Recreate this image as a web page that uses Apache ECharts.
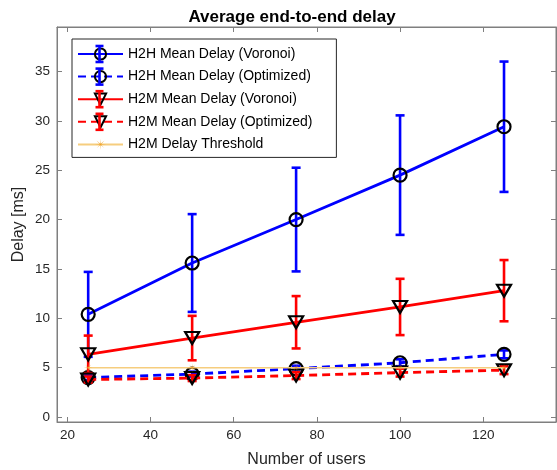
<!DOCTYPE html>
<html>
<head>
<meta charset="utf-8">
<script src="https://cdn.jsdelivr.net/npm/echarts@6/dist/echarts.min.js"></script>
<style>
  html, body { margin: 0; padding: 0; background: #fff; }
  #chart { width: 557px; height: 470px; }
</style>
</head>
<body>
<div id="chart"></div>
<script>
// Datos
var users = [25, 50, 75, 100, 125];
var xTicks = [20, 40, 60, 80, 100, 120];
var yTicks = [0, 5, 10, 15, 20, 25, 30, 35];

var h2hVorMean = [10.4, 15.6, 20.0, 24.5, 29.4];
var h2hVorErr = [4.3, 4.95, 5.25, 6.05, 6.6];
var h2hOptMean = [4.0, 4.35, 4.9, 5.5, 6.35];
var h2hOptErr = [0.25, 0.25, 0.3, 0.35, 0.4];
var h2mVorMean = [6.35, 8.0, 9.6, 11.15, 12.8];
var h2mVorErr = [1.9, 2.25, 2.65, 2.85, 3.1];
var h2mOptMean = [3.8, 3.95, 4.2, 4.5, 4.75];
var h2mOptErr = [0.3, 0.3, 0.35, 0.4, 0.4];
var threshold = [5, 5, 5, 5, 5];

var font = "Liberation Sans, Helvetica, Arial, sans-serif";
var axisColor = "#262626";
var boxColor = "#7f7f7f";

// asterisco de 8 brazos como símbolo
function asteriskPath() {
    var pts = [];
    for (var i = 0; i < 16; i++) {
        var a = Math.PI * i / 8;
        var r = i % 2 === 0 ? 10 : 1.2;
        pts.push((r * Math.cos(a)).toFixed(2) + " " + (r * Math.sin(a)).toFixed(2));
    }
    return "path://M" + pts.join(" L") + " Z";
}

function pairs(ys) {
    return users.map(function (x, i) { return [x, ys[i]]; });
}
function errData(mean, err) {
    return users.map(function (x, i) { return [x, mean[i], err[i]]; });
}

function errorBarSeries(name, mean, err, color, z) {
    return {
        type: "custom",
        name: name + " err",
        z: z,
        data: errData(mean, err),
        encode: { x: 0, y: [1] },
        renderItem: function (params, api) {
            var x = api.value(0), y = api.value(1), e = api.value(2);
            var top = api.coord([x, y + e]);
            var bot = api.coord([x, y - e]);
            var hw = 4.5;
            var st = { stroke: color, lineWidth: 2.6 };
            return {
                type: "group",
                children: [
                    { type: "line", shape: { x1: top[0], y1: top[1], x2: bot[0], y2: bot[1] }, style: st },
                    { type: "line", shape: { x1: top[0] - hw, y1: top[1], x2: top[0] + hw, y2: top[1] }, style: st },
                    { type: "line", shape: { x1: bot[0] - hw, y1: bot[1], x2: bot[0] + hw, y2: bot[1] }, style: st }
                ]
            };
        }
    };
}

function lineSeries(name, mean, color, dashed, marker, z) {
    var tri = marker === "tri";
    return {
        type: "line",
        name: name,
        z: z,
        data: pairs(mean),
        symbol: tri ? "triangle" : "circle",
        symbolSize: tri ? [14, 12] : 13,
        symbolRotate: tri ? 180 : 0,
        showAllSymbol: true,
        lineStyle: { color: color, width: 2.8, type: dashed ? [8, 5] : "solid" },
        itemStyle: { color: "rgba(0,0,0,0)", borderColor: "#000", borderWidth: 2.2 },
        emphasis: { disabled: true }
    };
}

var chart = echarts.init(document.getElementById("chart"), null, { renderer: "canvas" });

// barras de error dibujadas encima de la leyenda
var legendTop = 39, rowPitch = 22.6;
var legendColors = ["#0000ff", "#0000ff", "#ff0000", "#ff0000"];
var legendGraphics = [];
legendColors.forEach(function (c, k) {
    var cx = 99.5, cy = legendTop + 15 + k * rowPitch;
    var st = { stroke: c, lineWidth: 2.6 };
    legendGraphics.push({ type: "line", z: 100, shape: { x1: cx, y1: cy - 8, x2: cx, y2: cy + 8 }, style: st });
    legendGraphics.push({ type: "line", z: 100, shape: { x1: cx - 4, y1: cy - 8, x2: cx + 4, y2: cy - 8 }, style: st });
    legendGraphics.push({ type: "line", z: 100, shape: { x1: cx - 4, y1: cy + 8, x2: cx + 4, y2: cy + 8 }, style: st });
});

var option = {
    backgroundColor: "#fff",
    animation: false,
    textStyle: { fontFamily: font },
    title: {
        text: "Average end-to-end delay",
        left: 287, top: 4, textAlign: "center",
        textStyle: { fontFamily: font, fontSize: 17, fontWeight: "bold", color: "#000" }
    },
    grid: {
        left: 57, top: 27, right: 1, bottom: 48,
        outerBoundsMode: "none",
        show: true, borderColor: boxColor, borderWidth: 1
    },
    legend: {
        orient: "vertical",
        left: 72, top: legendTop,
        padding: [8, 24, 6, 5],
        itemWidth: 45, itemHeight: 14, itemGap: 8.6,
        backgroundColor: "#fff",
        borderColor: "#262626", borderWidth: 1,
        textStyle: { fontFamily: font, fontSize: 14, color: "#000", lineHeight: 14 },
        selectedMode: false,
        data: ["H2H Mean Delay (Voronoi)", "H2H Mean Delay (Optimized)", "H2M Mean Delay (Voronoi)",
               "H2M Mean Delay (Optimized)", "H2M Delay Threshold"]
    },
    xAxis: [{
        type: "value", min: 17.5, max: 137.5,
        name: "Number of users", nameLocation: "middle", nameGap: 30, nameMoveOverlap: false,
        nameTextStyle: { fontFamily: font, fontSize: 16, color: axisColor },
        axisLine: { onZero: false, lineStyle: { color: boxColor } },
        axisTick: { inside: true, length: 5, customValues: xTicks, lineStyle: { color: boxColor } },
        axisLabel: { customValues: xTicks, fontSize: 13.5, color: axisColor, margin: 6 },
        splitLine: { show: false }
    }, {
        type: "value", min: 17.5, max: 137.5, position: "top",
        axisLine: { onZero: false, lineStyle: { color: boxColor } },
        axisTick: { inside: true, length: 5, customValues: xTicks, lineStyle: { color: boxColor } },
        axisLabel: { show: false },
        splitLine: { show: false }
    }],
    yAxis: [{
        type: "value", min: -0.5, max: 39.5,
        name: "Delay [ms]", nameLocation: "middle", nameGap: 30, nameMoveOverlap: false,
        nameTextStyle: { fontFamily: font, fontSize: 16, color: axisColor },
        axisLine: { show: true, onZero: false, lineStyle: { color: boxColor } },
        axisTick: { show: true, inside: true, length: 5, customValues: yTicks, lineStyle: { color: boxColor } },
        axisLabel: { customValues: yTicks, fontSize: 13.5, color: axisColor, margin: 7 },
        splitLine: { show: false }
    }, {
        type: "value", min: -0.5, max: 39.5, position: "right",
        axisLine: { show: true, onZero: false, lineStyle: { color: boxColor } },
        axisTick: { show: true, inside: true, length: 5, customValues: yTicks, lineStyle: { color: boxColor } },
        axisLabel: { show: false },
        splitLine: { show: false }
    }],
    graphic: { elements: legendGraphics },
    series: [
        errorBarSeries("H2H Mean Delay (Voronoi)", h2hVorMean, h2hVorErr, "#0000ff", 2),
        lineSeries("H2H Mean Delay (Voronoi)", h2hVorMean, "#0000ff", false, "circle", 3),
        errorBarSeries("H2H Mean Delay (Optimized)", h2hOptMean, h2hOptErr, "#0000ff", 4),
        lineSeries("H2H Mean Delay (Optimized)", h2hOptMean, "#0000ff", true, "circle", 5),
        errorBarSeries("H2M Mean Delay (Voronoi)", h2mVorMean, h2mVorErr, "#ff0000", 6),
        lineSeries("H2M Mean Delay (Voronoi)", h2mVorMean, "#ff0000", false, "tri", 7),
        errorBarSeries("H2M Mean Delay (Optimized)", h2mOptMean, h2mOptErr, "#ff0000", 8),
        lineSeries("H2M Mean Delay (Optimized)", h2mOptMean, "#ff0000", true, "tri", 9),
        {
            type: "line",
            name: "H2M Delay Threshold",
            z: 10,
            data: pairs(threshold),
            symbol: asteriskPath(),
            symbolSize: 9,
            showAllSymbol: true,
            lineStyle: { color: "#f6cd7e", width: 1.5 },
            itemStyle: { color: "#f0a32a" },
            emphasis: { disabled: true }
        }
    ]
};

chart.setOption(option);
</script>
</body>
</html>
